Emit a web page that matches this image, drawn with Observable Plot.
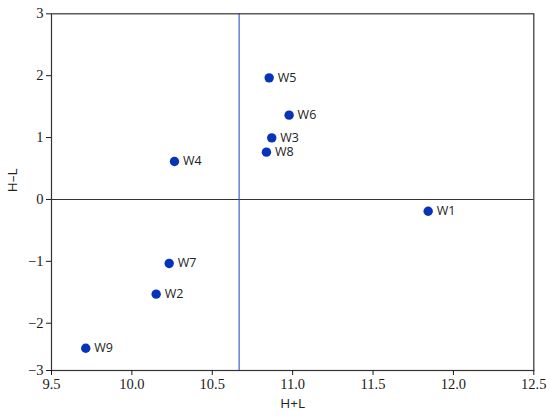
<!DOCTYPE html>
<html>
<head>
<meta charset="utf-8">
<script src="https://cdn.jsdelivr.net/npm/d3@7"></script>
<script src="https://cdn.jsdelivr.net/npm/@observablehq/plot@0.6"></script>
<style>
  html, body { margin: 0; padding: 0; background: #fff; }
  #chart { width: 550px; height: 419px; }
</style>
</head>
<body>
<div id="chart"></div>
<script>
const names = ["W1", "W2", "W3", "W4", "W5", "W6", "W7", "W8", "W9"];
const hPlusL = [11.843, 10.151, 10.870, 10.265, 10.854, 10.978, 10.232, 10.837, 9.713];
const hMinusL = [-0.19, -1.53, 0.995, 0.614, 1.965, 1.362, -1.034, 0.764, -2.53];
const xTicks = [9.5, 10.0, 10.5, 11.0, 11.5, 12.0, 12.5];
const yTicks = [-3, -2, -1, 0, 1, 2, 3];
const xMean = 10.667;

// The reference's y axis is compressed below -2 (the -2..-3 interval is shorter).
const k = 0.764;
const warp = v => v >= -2 ? v : -2 + (v + 2) * k;
const unwarp = w => w >= -2 ? w : -2 + (w + 2) / k;

const data = names.map((n, i) => ({name: n, x: hPlusL[i], y: hMinusL[i]}));

const W = 550, H = 419;
const mT = 13.3, mB = 49, mL = 51, mR = 16.7;

const fmtY = w => {
  const d = Math.round(unwarp(w));
  return d < 0 ? "\u2212" + Math.abs(d) : String(d);
};

const chart = Plot.plot({
  width: W,
  height: H,
  marginTop: mT,
  marginBottom: mB,
  marginLeft: mL,
  marginRight: mR,
  style: {background: "#fff", overflow: "visible", fontSize: "14.5px", fontFamily: "Liberation Serif", color: "#1a1a1a"},
  x: {domain: [9.5, 12.5]},
  y: {domain: [warp(-3), 3]},
  marks: [
    Plot.ruleY([warp(0)], {stroke: "#333", strokeWidth: 1.1}),
    Plot.ruleX([xMean], {stroke: "#2f55c8", strokeWidth: 1.1}),
    Plot.frame({stroke: "#333", strokeWidth: 1.2}),
    Plot.axisX({ticks: xTicks, tickFormat: d3.format(".1f"), tickSize: 5, tickPadding: 3, label: null}),
    Plot.axisY({ticks: yTicks.map(warp), tickFormat: fmtY, tickSize: 5, tickPadding: 3, label: null}),
    Plot.dot(data, {x: "x", y: d => warp(d.y), r: 4.7, fill: "#0733b8", stroke: "none"}),
    Plot.text(data, {x: "x", y: d => warp(d.y), text: "name", dx: 8.5, textAnchor: "start",
      fontSize: 12.5, fontFamily: "Open Sans", fill: "#222"}),
    Plot.text(["H+L"], {frameAnchor: "bottom", dy: 37, fontSize: 13.5, fontFamily: "Open Sans", fill: "#222"}),
    Plot.text(["H\u2013L"], {frameAnchor: "left", dx: -39, rotate: -90, fontSize: 13.5, fontFamily: "Open Sans", fill: "#222"})
  ]
});
document.getElementById("chart").appendChild(chart);
</script>
</body>
</html>
